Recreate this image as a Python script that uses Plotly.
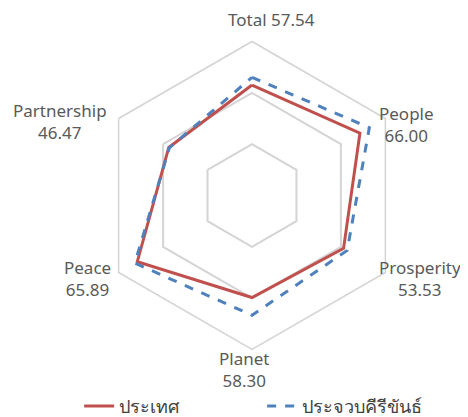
import plotly.graph_objects as go

categories = ["Total", "People", "Prosperity", "Planet", "Peace", "Partnership"]
country_values = [53.8, 60.7, 51.5, 49.7, 64.5, 46.8]
province_values = [57.54, 66.00, 53.53, 58.30, 65.89, 46.47]
series_names = ["ประเทศ", "ประจวบคีรีขันธ์"]
label_values = ["57.54", "66.00", "53.53", "58.30", "65.89", "46.47"]

def closed(v):
    return list(v) + [v[0]]

fig = go.Figure()
fig.add_trace(go.Scatterpolar(
    r=closed(country_values), theta=closed(categories), mode="lines",
    name=series_names[0], line=dict(color="#C0504D", width=3)))
fig.add_trace(go.Scatterpolar(
    r=closed(province_values), theta=closed(categories), mode="lines",
    name=series_names[1], line=dict(color="#4F81BD", width=3, dash="dash")))

# category label placement (paper coords)
label_pos = [(0.564, 0.972), (0.851, 0.720), (0.880, 0.351),
             (0.504, 0.132), (0.169, 0.351), (0.111, 0.727)]
for i, (cat, val) in enumerate(zip(categories, label_values)):
    sep = " " if i == 0 else "<br>"
    x, y = label_pos[i]
    fig.add_annotation(text=f"{cat}{sep}{val}", x=x, y=y, xref="paper", yref="paper",
                       xanchor="center", yanchor="middle", showarrow=False, align="center",
                       font=dict(size=17, color="#595959"))

fig.update_layout(
    width=468, height=417,
    margin=dict(l=0, r=0, t=0, b=0),
    paper_bgcolor="white",
    font=dict(family="Noto Sans, DejaVu Sans, sans-serif", size=17, color="#595959"),
    polar=dict(
        domain=dict(x=[0.1923, 0.8504], y=[0.1811, 0.9197]),
        gridshape="linear",
        bgcolor="white",
        radialaxis=dict(range=[0, 75], tickvals=[25, 50, 75], showticklabels=False,
                        showline=False, ticks="", gridcolor="#D4D4D4", gridwidth=1.5),
        angularaxis=dict(rotation=90, direction="clockwise", showgrid=False,
                         linecolor="#D4D4D4", linewidth=1.5, ticks="",
                         showticklabels=False),
    ),
    legend=dict(orientation="h", x=0.152, xanchor="left", y=0.045, yanchor="middle",
                entrywidth=138, entrywidthmode="pixels",
                font=dict(size=18, color="#404040")),
    showlegend=True,
)

fig.write_html("out.html")
